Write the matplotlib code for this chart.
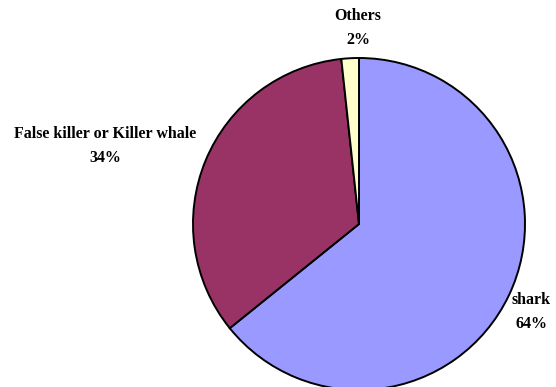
import matplotlib.pyplot as plt

# data
categories = ['shark', 'False killer or Killer whale', 'Others']
shares = [64.2, 34.1, 1.7]
colors = ['#9999FF', '#993366', '#FFFFCC']

# label anchors in pixel coords (x, y from top)
label_pos = [(531, 312), (105, 146), (358, 28)]

W, H = 556, 387
fig = plt.figure(figsize=(W / 100, H / 100), dpi=100)
ax = fig.add_axes([0, 0, 1, 1])

cx, cy, r = 359, H - 224, 166
ax.pie(shares, colors=colors, startangle=90, counterclock=False,
       center=(cx, cy), radius=r, frame=True,
       wedgeprops=dict(edgecolor='black', linewidth=1.4))

total = sum(shares)
for name, val, (x, y) in zip(categories, shares, label_pos):
    ax.text(x, H - y, '%s\n%.0f%%' % (name, val / total * 100),
            ha='center', va='center', fontsize=11.5, linespacing=1.7,
            family='Liberation Serif', fontweight='bold')

ax.set_xlim(0, W)
ax.set_ylim(0, H)
ax.set_aspect('equal')
ax.axis('off')
fig.savefig('out.png', dpi=100)
